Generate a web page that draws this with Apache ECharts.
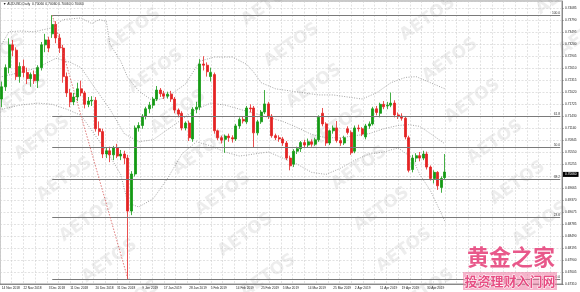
<!DOCTYPE html>
<html><head><meta charset="utf-8">
<script src="https://cdn.jsdelivr.net/npm/echarts@6/dist/echarts.min.js"></script>
<style>html,body{margin:0;padding:0;background:#fff}#c{width:580px;height:292px}</style>
</head><body><div id="c"></div>
<script>
// ---------- data ----------
const dates = [
'14 Nov 2018','15 Nov 2018','16 Nov 2018','19 Nov 2018','20 Nov 2018','21 Nov 2018','22 Nov 2018','23 Nov 2018','26 Nov 2018','27 Nov 2018','28 Nov 2018','29 Nov 2018','30 Nov 2018',
'3 Dec 2018','4 Dec 2018','5 Dec 2018','6 Dec 2018','7 Dec 2018','10 Dec 2018','11 Dec 2018','12 Dec 2018','13 Dec 2018','14 Dec 2018','17 Dec 2018','18 Dec 2018','19 Dec 2018','20 Dec 2018','21 Dec 2018','24 Dec 2018','26 Dec 2018','27 Dec 2018','28 Dec 2018','31 Dec 2018',
'1 Jan 2019','2 Jan 2019','3 Jan 2019','4 Jan 2019','7 Jan 2019','8 Jan 2019','9 Jan 2019','10 Jan 2019','11 Jan 2019','14 Jan 2019','15 Jan 2019','16 Jan 2019','17 Jan 2019','18 Jan 2019','21 Jan 2019','22 Jan 2019','23 Jan 2019','24 Jan 2019','25 Jan 2019','28 Jan 2019','29 Jan 2019','30 Jan 2019','31 Jan 2019',
'1 Feb 2019','4 Feb 2019','5 Feb 2019','6 Feb 2019','7 Feb 2019','8 Feb 2019','11 Feb 2019','12 Feb 2019','13 Feb 2019','14 Feb 2019','15 Feb 2019','18 Feb 2019','19 Feb 2019','20 Feb 2019','21 Feb 2019','22 Feb 2019','25 Feb 2019','26 Feb 2019','27 Feb 2019','28 Feb 2019',
'1 Mar 2019','4 Mar 2019','5 Mar 2019','6 Mar 2019','7 Mar 2019','8 Mar 2019','11 Mar 2019','12 Mar 2019','13 Mar 2019','14 Mar 2019','15 Mar 2019','18 Mar 2019','19 Mar 2019','20 Mar 2019','21 Mar 2019','22 Mar 2019','25 Mar 2019','26 Mar 2019','27 Mar 2019','28 Mar 2019','29 Mar 2019',
'1 Apr 2019','2 Apr 2019','3 Apr 2019','4 Apr 2019','5 Apr 2019','8 Apr 2019','9 Apr 2019','10 Apr 2019','11 Apr 2019','12 Apr 2019','15 Apr 2019','16 Apr 2019','17 Apr 2019','18 Apr 2019','19 Apr 2019','22 Apr 2019','23 Apr 2019','24 Apr 2019','25 Apr 2019','26 Apr 2019','29 Apr 2019','30 Apr 2019',
'1 May 2019','2 May 2019','3 May 2019','6 May 2019','7 May 2019'];
const emptySlots = 32;            // blank area to the right of the last bar
const shownDates = ['14 Nov 2018','22 Nov 2018','3 Dec 2018','11 Dec 2018','20 Dec 2018','31 Dec 2018','9 Jan 2019','17 Jan 2019','28 Jan 2019','5 Feb 2019','14 Feb 2019','25 Feb 2019','5 Mar 2019','14 Mar 2019','25 Mar 2019','2 Apr 2019','11 Apr 2019','19 Apr 2019','30 Apr 2019'];

// open, close, low, high
const ohlc = [
[.7185,.7215,.7165,.7228],[.7215,.7262,.7205,.7270],[.7262,.7318,.7248,.7334],[.7318,.7305,.7290,.7330],[.7305,.7240,.7232,.7312],
[.7240,.7265,.7225,.7275],[.7265,.7250,.7238,.7282],[.7250,.7235,.7222,.7262],[.7235,.7245,.7215,.7250],[.7245,.7230,.7222,.7255],
[.7230,.7262,.7212,.7268],[.7262,.7318,.7255,.7325],[.7318,.7330,.7300,.7345],[.7330,.7310,.7300,.7338],
[.7345,.7368,.7335,.7391],[.7368,.7335,.7322,.7376],[.7335,.7310,.7298,.7345],[.7310,.7240,.7225,.7318],[.7240,.7200,.7190,.7250],
[.7200,.7178,.7165,.7210],[.7178,.7190,.7170,.7200],[.7190,.7210,.7180,.7225],[.7210,.7200,.7192,.7230],[.7200,.7172,.7162,.7205],
[.7172,.7180,.7165,.7190],[.7180,.7182,.7168,.7192],[.7182,.7112,.7105,.7190],[.7112,.7105,.7095,.7130],[.7105,.7050,.7040,.7112],
[.7050,.7058,.7040,.7065],[.7058,.7048,.7030,.7068],[.7048,.7065,.7035,.7070],[.7065,.7045,.7040,.7075],[.7045,.7050,.7035,.7060],
[.7050,.7040,.7025,.7058],[.7040,.6910,.6743,.7048],[.6910,.7001,.6900,.7008],[.7001,.7114,.6995,.7120],[.7114,.7120,.7105,.7128],
[.7120,.7143,.7112,.7148],[.7143,.7161,.7135,.7166],[.7161,.7170,.7150,.7178],[.7170,.7185,.7162,.7190],[.7185,.7207,.7180,.7217],
[.7207,.7198,.7190,.7212],[.7198,.7192,.7185,.7205],[.7192,.7197,.7186,.7203],[.7197,.7185,.7178,.7205],[.7185,.7158,.7150,.7190],
[.7158,.7148,.7140,.7162],[.7150,.7114,.7108,.7155],[.7114,.7126,.7108,.7130],[.7126,.7090,.7082,.7132],[.7087,.7160,.7080,.7165],
[.7160,.7165,.7150,.7178],[.7165,.7271,.7158,.7283],[.7271,.7268,.7255,.7290],[.7268,.7252,.7240,.7275],[.7240,.7250,.7228,.7262],
[.7245,.7107,.7100,.7250],[.7107,.7090,.7084,.7110],[.7090,.7084,.7076,.7095],[.7086,.7094,.7053,.7098],[.7094,.7090,.7080,.7100],
[.7090,.7087,.7078,.7096],[.7087,.7119,.7082,.7124],[.7119,.7135,.7112,.7140],[.7135,.7131,.7125,.7142],[.7129,.7163,.7124,.7168],
[.7163,.7161,.7152,.7172],[.7163,.7102,.7065,.7168],[.7102,.7129,.7096,.7134],[.7129,.7153,.7124,.7158],[.7153,.7173,.7148,.7207],
[.7173,.7143,.7136,.7178],[.7143,.7095,.7090,.7148],[.7095,.7090,.7084,.7100],[.7090,.7087,.7080,.7096],[.7087,.7077,.7070,.7092],
[.7077,.7040,.7035,.7082],[.7040,.7021,.7010,.7046],[.7025,.7057,.7018,.7062],[.7057,.7063,.7050,.7068],[.7063,.7078,.7055,.7082],
[.7078,.7072,.7065,.7085],[.7072,.7080,.7066,.7088],[.7080,.7074,.7068,.7086],[.7074,.7085,.7070,.7090],[.7085,.7140,.7080,.7145],
[.7150,.7124,.7118,.7163],[.7124,.7077,.7070,.7128],[.7077,.7107,.7072,.7110],[.7107,.7114,.7100,.7120],[.7114,.7083,.7078,.7131],
[.7083,.7077,.7070,.7090],[.7077,.7090,.7072,.7095],[.7112,.7103,.7098,.7118],[.7103,.7053,.7048,.7108],[.7057,.7114,.7052,.7120],
[.7114,.7112,.7105,.7122],[.7112,.7099,.7094,.7116],[.7092,.7119,.7086,.7124],[.7119,.7124,.7112,.7130],[.7124,.7161,.7120,.7166],
[.7161,.7152,.7145,.7168],[.7150,.7172,.7140,.7176],[.7172,.7166,.7160,.7180],[.7168,.7170,.7160,.7178],[.7170,.7175,.7165,.7201],
[.7175,.7146,.7140,.7182],[.7146,.7143,.7136,.7152],[.7143,.7138,.7132,.7150],[.7138,.7092,.7086,.7143],[.7090,.7010,.7005,.7095],
[.7012,.7040,.7005,.7048],[.7040,.7046,.7030,.7052],[.7046,.7040,.7032,.7055],[.7040,.7050,.7035,.7058],[.7050,.7018,.7012,.7056],
[.7018,.6990,.6985,.7022],[.6990,.7005,.6978,.7010],[.7005,.6972,.6962,.7008],[.6968,.6990,.6955,.6995],[.6992,.7006,.6988,.7050]];

// Bollinger band lines: [bar index, price]
const bbUpper = [[0,.7320],[2,.7350],[5,.7352],[9,.7350],[14,.7360],[17,.7380],[22,.7384],[25,.7370],[27,.7380],[29,.7376],[30,.7320],[33,.7278],[35,.7237],[38,.7205],[42,.7180],[46,.7190],[51,.7222],[55,.7278],[59,.7288],[64,.7288],[68,.7270],[70,.7250],[72,.7225],[76,.7210],[80,.7205],[84,.7200],[88,.7195],[92,.7195],[96,.7190],[100,.7185],[104,.7200],[108,.7225],[112,.7238],[115,.7240],[119,.7225],[123,.7210]];
const bbMiddle = [[0,.7240],[5,.7250],[10,.7262],[15,.7285],[19,.7275],[22,.7262],[26,.7210],[30,.7160],[34,.7100],[38,.7080],[42,.7085],[46,.7110],[50,.7135],[54,.7160],[58,.7175],[62,.7170],[66,.7160],[70,.7150],[74,.7140],[78,.7130],[82,.7115],[86,.7098],[90,.7090],[94,.7090],[98,.7095],[102,.7100],[106,.7112],[110,.7120],[113,.7122],[116,.7118],[119,.7100],[123,.7075]];
const bbLower = [[0,.7160],[5,.7170],[10,.7175],[14,.7172],[18,.7160],[22,.7145],[26,.7095],[30,.7045],[33,.7000],[35,.6930],[38,.6920],[42,.6940],[46,.6990],[50,.7050],[54,.7080],[58,.7070],[62,.7055],[66,.7045],[70,.7050],[74,.7055],[78,.7040],[82,.7025],[86,.7005],[90,.7000],[94,.7015],[98,.7035],[102,.7050],[106,.7055],[110,.7065],[114,.7040],[116,.7000],[119,.6960],[123,.6885]];

// Fibonacci retracement (drawn from the 4 Dec high to the 3 Jan low)
const fibLevels = [0.7391, 0.7143, 0.7067, 0.6989, 0.6895, 0.6743];
const fibNames  = ['100.0','61.8','50.0','38.2','23.6','0.0'];
const fibFrom = '4 Dec 2018', fibTo = '3 Jan 2019';

const priceTicks = ['0.67310','0.67605','0.67900','0.68195','0.68490','0.68785','0.69075','0.69370','0.69665','0.69960','0.70255','0.70550','0.70845','0.71140','0.71430','0.71725','0.72020','0.72315','0.72610','0.72905','0.73200','0.73495','0.73790','0.74085'];
const lastPrice = 0.70060;
const header = '\u25BC AUDUSD,Daily  0.70060 0.70060 0.70060 0.70060';

// ---------- chart ----------
const tickStep = (parseFloat(priceTicks[priceTicks.length-1]) - parseFloat(priceTicks[0])) / (priceTicks.length-1);
const pMin = parseFloat(priceTicks[0]), pMax = 0.74256;
const cats = dates.concat(Array.from({length: emptySlots}, () => ''));
const N = cats.length;
const shown = new Set(shownDates);
const FONT = 'Liberation Sans';

const fibLines = fibLevels.map((v,i) => [
  {coord:[fibFrom, v], lineStyle:{color:'#7a7a7a', width:1.2, type:'solid'},
   label:{show:true, position:'insideEndTop', formatter: fibNames[i], fontSize:3.3, fontFamily:FONT, color:'#333', distance:[0,0.5]}},
  {coord:[N-1, v]}
]);
const diag = [{coord:[fibFrom, fibLevels[0]], lineStyle:{color:'#d65a5a', width:0.8, type:[1.5,1.5]}, label:{show:false}},
              {coord:[fibTo, fibLevels[5]]}];

const bbStyle = {color:'#8c8c8c', width:0.8, type:[1,1.5]};
const bbSeries = [bbUpper, bbMiddle, bbLower].map(d => ({
  type:'line', data:d, symbol:'none', silent:true, lineStyle:bbStyle, z:1, animation:false
}));

// watermark lattice
const wm = [];
for (let n=-3;n<=7;n++) for (let m=-8;m<=10;m++){
  const x = 42 + m*22.5 + n*91, y = 138 + m*41 - n*108;
  if (x>-20 && x<600 && y>-10 && y<305) wm.push({type:'text', x:x, y:y, rotation:35*Math.PI/180, silent:true, z:-1,
     style:{text:'AETOS', font:'bold 17px "DejaVu Sans"', fill:'rgba(175,175,175,0.22)', align:'center', verticalAlign:'middle'}});
}

const chart = echarts.init(document.getElementById('c'), null, {renderer:'canvas'});
chart.setOption({
  animation:false,
  backgroundColor:'#fff',
  grid:{left:0, right:18, top:1, bottom:8, outerBoundsMode:'none', show:true, borderColor:'#777', borderWidth:0.8},
  xAxis:[
    {type:'category', data:cats, boundaryGap:true,
     axisLine:{show:true, lineStyle:{color:'#777', width:0.8}}, axisTick:{show:false},
     axisLabel:{interval:(i)=>shown.has(cats[i]), fontSize:3.2, color:'#222', margin:2.5, align:'left', fontFamily:FONT},
     splitLine:{show:false}},
    {type:'value', min:0, max:48, interval:1, position:'top',
     axisLine:{show:false}, axisTick:{show:false}, axisLabel:{show:false},
     splitLine:{show:true, lineStyle:{color:'#cfcfcf', width:0.6, type:[2,1.5]}}}
  ],
  yAxis:[
    {type:'value', min:pMin, max:pMax, show:false, splitLine:{show:false}},
    {type:'value', position:'right', min:0, max:(pMax-pMin)/tickStep, interval:1,
     axisLine:{show:true, lineStyle:{color:'#777', width:0.8}},
     axisTick:{show:true, length:1.5, lineStyle:{color:'#777'}},
     axisLabel:{fontSize:3.2, color:'#222', margin:3, fontFamily:FONT, showMaxLabel:false,
       formatter:(v)=>{const k=Math.round(v); return Math.abs(v-k)<1e-6 && priceTicks[k] ? priceTicks[k] : '';}},
     splitLine:{show:true, lineStyle:{color:'#cfcfcf', width:0.6, type:[2,1.5]}}}
  ],
  series:[
    ...bbSeries,
    {type:'candlestick', data:ohlc, barWidth:2.5, z:3,
     itemStyle:{color:'#159a15', color0:'#e42424', borderColor:'#159a15', borderColor0:'#e42424', borderWidth:0.8},
     markLine:{silent:true, symbol:['none','none'], animation:false,
       data:[...fibLines, diag,
         {yAxis:lastPrice, lineStyle:{color:'rgba(0,0,0,0)', width:0}, label:{show:true, position:'end', formatter:'0.70060', fontSize:3.2, fontFamily:FONT,
            color:'#fff', backgroundColor:'#000', padding:[1,2,1,2], distance:1}}]}}
  ],
  graphic:[
    ...wm,
    {type:'text', left:3, top:3, z:10, style:{text:header, font:'3.4px "Liberation Sans"', fill:'#222'}},
    {type:'rect', shape:{x:463, y:272, width:94, height:18}, z:10, style:{fill:'rgba(236,120,160,0.55)'}},
    {type:'text', x:511, y:257, z:11, style:{text:'黄金之家', font:'bold 22px "Noto Sans CJK SC"', fill:'rgba(230,70,125,0.9)', stroke:'#fff', lineWidth:1, align:'center', verticalAlign:'middle'}},
    {type:'text', x:510, y:281, z:11, style:{text:'投资理财入门网', font:'bold 13px "Noto Sans CJK SC"', fill:'rgba(230,70,125,0.95)', stroke:'#fff', lineWidth:1, align:'center', verticalAlign:'middle'}}
  ]
});
</script></body></html>
